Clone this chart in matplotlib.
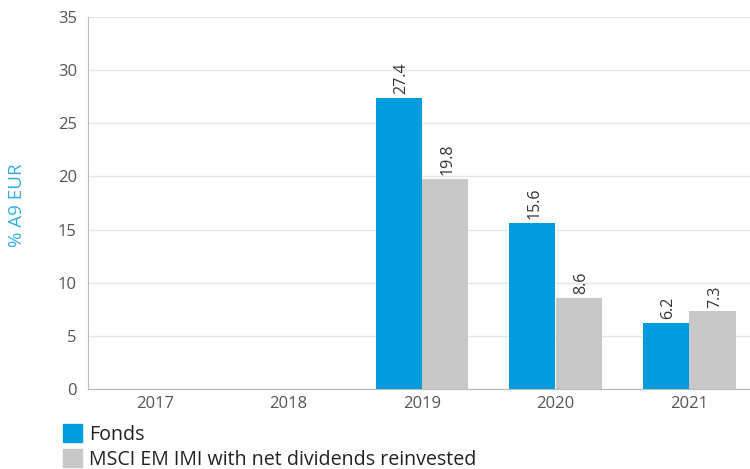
import matplotlib
matplotlib.use("Agg")
import matplotlib.pyplot as plt
import numpy as np
from matplotlib.patches import Patch

years = ["2017", "2018", "2019", "2020", "2021"]
fonds = [np.nan, np.nan, 27.4, 15.6, 6.2]
msci = [np.nan, np.nan, 19.8, 8.6, 7.3]
series_names = ["Fonds", "MSCI EM IMI with net dividends reinvested"]
y_ticks = [0, 5, 10, 15, 20, 25, 30, 35]

blue = "#009CDE"
gray = "#C8C8C8"
font = "Open Sans"
plt.rcParams['font.family'] = [font, 'DejaVu Sans']

fig = plt.figure(figsize=(7.5, 4.69), dpi=100)
ax = fig.add_axes([88/750, 1-389/469, 668/750, (389-17)/469])

x = np.arange(len(years))
w = 0.345
off = 0.1745
b1 = ax.bar(x - off, fonds, width=w, color=blue, linewidth=0)
b2 = ax.bar(x + off, msci, width=w, color=gray, linewidth=0)

for bars, vals in ((b1, fonds), (b2, msci)):
    for rect, v in zip(bars, vals):
        if np.isnan(v):
            continue
        ax.text(rect.get_x() + rect.get_width()/2 + 0.02, v + 0.35, f"{v:.1f}",
                rotation=90, ha="center", va="bottom", fontsize=11.5, color="#333333")

ax.set_xlim(-0.5, len(years) - 0.5)
ax.set_ylim(0, 35)
ax.set_yticks(y_ticks)
ax.set_xticks(x)
ax.set_xticklabels(years)
ax.tick_params(axis="both", length=0, labelsize=12, labelcolor="#555555")
ax.tick_params(axis="y", pad=8)
ax.tick_params(axis="x", pad=5)
ax.yaxis.grid(True, color="#E6E6E6", linewidth=1)
ax.set_axisbelow(True)
for s in ("top", "right"):
    ax.spines[s].set_visible(False)
ax.spines["left"].set_color("#BBBBBB")
ax.spines["bottom"].set_color("#BBBBBB")

fig.text(17/750, 1-205/469, "% A9 EUR", rotation=90, ha="center", va="center",
         color="#33ADE6", fontsize=13.5)

handles = [Patch(color=blue), Patch(color=gray)]
fig.legend(handles, series_names, loc="lower left", bbox_to_anchor=(49/750, -0.031),
           frameon=False, fontsize=14.15, handlelength=1.0, handleheight=1.0,
           handletextpad=0.35, labelspacing=0.22, borderpad=0.2, labelcolor="#222222")

fig.savefig("out.png", dpi=100)
